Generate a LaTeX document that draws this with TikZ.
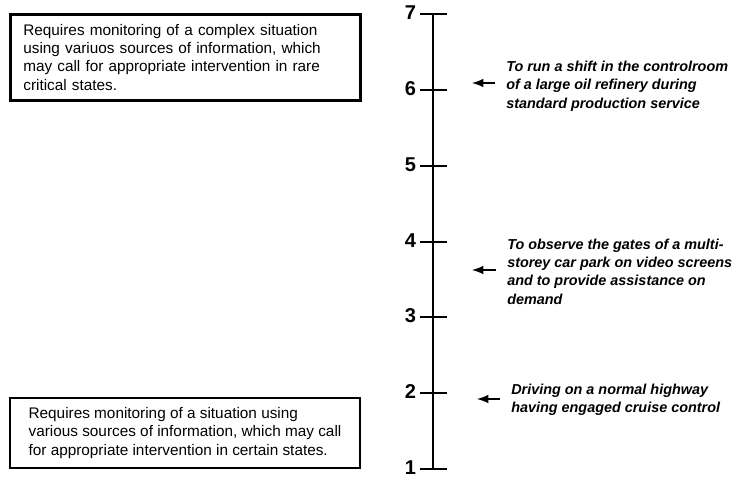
\documentclass[tikz,border=0pt]{standalone}
\usepackage{fontspec}
\setmainfont{Liberation Sans}
\usetikzlibrary{arrows}

\begin{document}
\begin{tikzpicture}[x=0.75pt,y=-0.75pt,
  descbox/.style={draw, anchor=north west, align=left, minimum width=262.5pt,
    font=\fontsize{11.5}{13.7}\selectfont},
  example/.style={anchor=west, align=left, inner sep=0pt,
    font=\fontsize{10.8}{13.8}\selectfont\bfseries\itshape},
  level/.style={anchor=east, inner sep=0pt, font=\fontsize{15}{15}\selectfont\bfseries},
  pointer/.style={-latex, line width=1.9pt, shorten <=8.25pt}]
  \useasboundingbox (0,0) rectangle (733,478);

  % scale 1..7
  \foreach \n in {1,...,7} {
    \coordinate (t\n) at (433,{469-(\n-1)*75.83});
    \draw[line width=1.5pt] ([xshift=-9.75pt]t\n) -- ([xshift=10.5pt]t\n);
    \node[level] (l\n) at ([xshift=-12.5pt,yshift=1pt]t\n) {\n};
  }
  \draw[line width=2pt] (t1) -- (t7);

  \node[descbox, line width=2pt, text width=243pt, inner xsep=9.75pt, minimum height=64.5pt] (high) at (9,13)
    {Requires monitoring of a complex situation\\ using variuos sources of information, which\\ may call for appropriate intervention in rare\\ critical states.};
  \node[descbox, line width=1.5pt, minimum height=52.5pt] (low) at (9,397)
    {Requires monitoring of a situation using\\ various sources of information, which may call\\ for appropriate intervention in certain states.};

  \node[example] (run) at (506,86)
    {To run a shift in the controlroom\\ of a large oil refinery during\\ standard production service};
  \node[example] (park) at (507,271.5)
    {To observe the gates of a multi-\\ storey car park on video screens\\ and to provide assistance on\\ demand};
  \node[example] (drive) at (511,400)
    {Driving on a normal highway\\ having engaged cruise control};

  \coordinate (p6) at (472,83);
  \coordinate (p4) at (472,270);
  \coordinate (p2) at (477,399);
  \draw[pointer] (p6 -| run.west) -- (p6);
  \draw[pointer] (p4 -| park.west) -- (p4);
  \draw[pointer] (p2 -| drive.west) -- (p2);
\end{tikzpicture}
\end{document}
